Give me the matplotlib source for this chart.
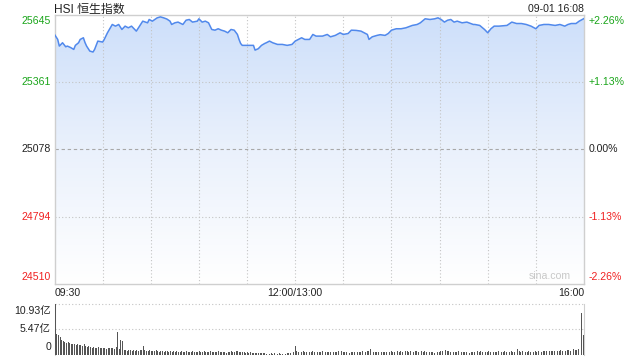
import matplotlib
matplotlib.use("Agg")
import matplotlib.pyplot as plt
import numpy as np
from matplotlib.colors import LinearSegmentedColormap

plt.rcParams['font.family'] = ['Liberation Sans', 'Noto Sans CJK SC', 'DejaVu Sans']

title = "HSI 恒生指数"
stamp = "09-01 16:08"
prev_close = 25078
y_ticks = [25645, 25361, 25078, 24794, 24510]
pct_labels = ["+2.26%", "+1.13%", "0.00%", "-1.13%", "-2.26%"]
x_tick_minutes = [0, 150, 330]
x_tick_labels = ["09:30", "12:00/13:00", "16:00"]
vol_ticks = [0, 5.47, 10.93]
vol_tick_labels = ["0", "5.47亿", "10.93亿"]

# trading minute index (0 = 09:30, 150 = 12:00/13:00, 330 = 16:00)
minutes = [0, 2, 3, 5, 7, 8, 10, 12, 13, 15, 16, 18, 19, 20, 22, 24, 25, 27, 30, 31,
           33, 36, 38, 40, 42, 44, 46, 48, 51, 53, 55, 58, 59, 61, 64, 66, 68, 70, 72, 73,
           75, 77, 80, 82, 84, 86, 89, 90, 92, 94, 96, 98, 100, 102, 104, 106, 108, 110, 112, 114,
           115, 116, 117, 120, 124, 125, 127, 129, 131, 132, 134, 136, 139, 142, 145, 148, 150, 152, 154, 156,
           159, 161, 163, 167, 170, 172, 175, 178, 180, 183, 185, 188, 191, 193, 195, 196, 198, 201, 203, 206,
           208, 210, 213, 216, 219, 223, 226, 228, 231, 234, 237, 239, 241, 243, 245, 247, 249, 251, 254, 257,
           261, 262, 265, 268, 270, 272, 274, 277, 282, 285, 288, 291, 294, 297, 300, 302, 305, 308, 312, 315,
           318, 320, 322, 325, 327, 329, 330]
prices = [25561, 25540, 25512, 25526, 25509, 25512, 25506, 25498, 25515, 25526, 25540, 25547, 25527, 25512, 25491, 25487, 25498, 25533, 25529, 25540,
          25568, 25603, 25596, 25603, 25582, 25596, 25589, 25596, 25575, 25596, 25617, 25610, 25624, 25617, 25631, 25635, 25631, 25626, 25617, 25603,
          25610, 25613, 25603, 25621, 25624, 25613, 25617, 25627, 25613, 25617, 25610, 25582, 25579, 25585, 25579, 25575, 25568, 25582, 25579, 25561,
          25540, 25523, 25515, 25515, 25515, 25495, 25501, 25515, 25523, 25526, 25533, 25526, 25519, 25519, 25515, 25519, 25533, 25540, 25547, 25540,
          25540, 25561, 25554, 25554, 25561, 25551, 25557, 25568, 25561, 25565, 25579, 25578, 25575, 25568, 25561, 25540, 25551, 25557, 25560, 25557,
          25565, 25579, 25585, 25585, 25589, 25599, 25603, 25610, 25627, 25624, 25627, 25631, 25624, 25613, 25621, 25624, 25613, 25617, 25610, 25613,
          25603, 25603, 25599, 25582, 25568, 25585, 25596, 25596, 25599, 25613, 25607, 25607, 25603, 25596, 25585, 25599, 25603, 25603, 25599, 25603,
          25596, 25603, 25607, 25607, 25617, 25624, 25628]

# volume per minute, 亿
volumes = [10.93, 4.5, 4.3, 3.9, 3.3, 2.9, 2.8, 2.6, 2.7, 2.5,
           2.4, 2.3, 2.4, 2.2, 2.3, 2.1, 2.2, 2.0, 2.3, 1.9,
           1.8, 2.0, 1.7, 1.6, 1.8, 1.5, 1.6, 1.7, 1.5, 1.4,
           1.6, 1.5, 1.3, 1.5, 1.4, 1.6, 1.5, 1.3, 1.7, 5.0,
           1.2, 3.3, 2.9, 1.0, 1.1, 0.9, 1.0, 1.1, 0.9, 1.0,
           0.9, 1.0, 0.8, 1.0, 1.1, 1.9, 1.0, 0.9, 0.8, 1.0,
           0.9, 0.8, 0.9, 1.0, 0.8, 0.7, 0.9, 0.8, 0.7, 0.8,
           0.9, 0.7, 0.8, 0.6, 0.8, 0.7, 0.9, 0.6, 0.7, 0.8,
           0.6, 0.7, 0.8, 0.6, 0.7, 0.6, 0.8, 0.7, 0.6, 0.7,
           0.8, 0.7, 0.6, 0.8, 0.7, 0.6, 0.7, 0.8, 0.6, 0.7,
           0.6, 0.7, 0.8, 0.7, 0.6, 0.7, 0.6, 0.5, 0.7, 0.6,
           0.8, 0.7, 0.6, 0.9, 0.8, 0.7, 0.6, 0.7, 0.6, 0.5,
           0.6, 0.5, 0.6, 0.5, 0.4, 0.5, 0.4, 0.5, 0.4, 0.4,
           0.5, 0.4, 0.3, 0.4, 0.3, 0.4, 0.3, 0.4, 0.3, 0.3,
           0.4, 0.3, 0.3, 0.4, 0.3, 0.4, 0.5, 0.4, 0.5, 0.6,
           2.0, 0.8, 0.6, 0.9, 0.7, 0.8, 0.6, 0.7, 0.8, 0.6,
           0.7, 0.8, 0.7, 0.6, 0.7, 0.6, 0.7, 0.8, 0.7, 0.6,
           0.7, 0.6, 0.7, 0.8, 0.7, 0.6, 0.7, 0.8, 1.9, 0.8,
           0.7, 0.6, 0.7, 0.6, 0.5, 0.6, 0.7, 0.6, 0.5, 0.6,
           0.7, 0.6, 0.8, 0.7, 0.6, 0.9, 0.8, 1.2, 0.7, 0.6,
           0.7, 0.6, 0.7, 0.8, 0.6, 0.7, 0.6, 0.7, 0.6, 0.7,
           0.8, 0.7, 0.6, 0.7, 0.9, 0.7, 0.8, 0.6, 0.7, 0.8,
           0.9, 0.7, 0.8, 0.6, 0.7, 0.9, 0.8, 0.7, 0.6, 0.8,
           0.7, 0.8, 0.6, 0.7, 0.6, 0.7, 0.6, 0.5, 0.7, 0.6,
           0.7, 0.8, 0.9, 0.7, 1.0, 0.8, 0.9, 0.7, 0.8, 0.6,
           0.7, 0.6, 0.8, 0.7, 0.6, 0.7, 0.6, 0.7, 0.6, 0.5,
           0.6, 0.7, 0.6, 0.7, 0.8, 0.7, 0.9, 0.7, 0.8, 0.6,
           0.7, 0.8, 0.7, 0.6, 0.7, 0.6, 0.7, 0.8, 0.7, 0.6,
           0.7, 0.8, 0.7, 0.6, 0.7, 0.8, 0.7, 0.6, 0.9, 1.2,
           0.8, 0.7, 0.8, 0.7, 0.6, 0.7, 0.8, 0.7, 0.6, 0.7,
           0.8, 0.7, 0.8, 0.9, 0.7, 0.8, 0.9, 0.8, 0.7, 0.8,
           0.9, 0.8, 0.9, 1.0, 0.8, 0.9, 1.0, 0.9, 1.1, 0.9,
           1.0, 1.1, 0.9, 1.0, 1.2, 1.0, 1.1, 1.2, 1.0, 8.9,
           4.3]

GREEN = "#1aa51a"
RED = "#f02020"
BORDER = "#cfcfcf"
GRID = "#c4c4c4"
LINE = "#5189ec"

fig = plt.figure(figsize=(6.4, 3.6), dpi=100)
W, H = 640.0, 360.0
L, R = 54.5, 584.0

def ax_rect(top, bottom):
    return [L / W, 1 - bottom / H, (R - L) / W, (bottom - top) / H]

ax = fig.add_axes(ax_rect(14.5, 284))
xmax = 330
ax.set_xlim(0, xmax)
ax.set_ylim(y_ticks[-1], y_ticks[0])

# gradient fill under the line
cmap = LinearSegmentedColormap.from_list("g", ["#ffffff", "#eaf1fc", "#cddffa"])
grad = np.linspace(0, 1, 256).reshape(-1, 1)
im = ax.imshow(grad, extent=[0, xmax, y_ticks[-1], y_ticks[0]], origin="lower",
               cmap=cmap, aspect="auto", zorder=1)
poly = ax.fill_between(minutes, prices, y_ticks[-1], color="none", zorder=1)
clip_path = poly.get_paths()[0]
im.set_clip_path(clip_path, transform=ax.transData)

# grid
for m in range(30, xmax, 30):
    ax.axvline(m, color=GRID, lw=0.8, ls=(0, (1, 2)), zorder=2)
for v in y_ticks[1:-1]:
    if v == prev_close:
        ax.axhline(v, color="#a8a8a8", lw=0.8, ls=(0, (3, 2.5)), zorder=2)
    else:
        ax.axhline(v, color=GRID, lw=0.8, ls=(0, (1, 2)), zorder=2)

ax.plot(minutes, prices, color=LINE, lw=1.1, zorder=3, solid_joinstyle="round")

for s in ax.spines.values():
    s.set_color(BORDER)
    s.set_linewidth(1.0)
ax.set_xticks([])
ax.set_yticks([])

# left price labels
for i, (v, p) in enumerate(zip(y_ticks, pct_labels)):
    col = GREEN if v > prev_close else (RED if v < prev_close else "#222222")
    va = "top" if i == 0 else ("bottom" if i == len(y_ticks) - 1 else "center")
    off = -1.5 if i == 0 else (2 if i == len(y_ticks) - 1 else 0)
    ax.annotate(str(v), xy=(0, v), xycoords=("axes fraction", "data"),
                xytext=(-3.5, off), textcoords="offset pixels",
                ha="right", va=va, color=col, fontsize=7.6)
    ax.annotate(p, xy=(1, v), xycoords=("axes fraction", "data"),
                xytext=(5, off), textcoords="offset pixels",
                ha="left", va=va, color=col, fontsize=7.6)

# x labels
for m, lab in zip(x_tick_minutes, x_tick_labels):
    ha = "left" if m == 0 else ("right" if m == xmax else "center")
    ax.annotate(lab, xy=(m, 0), xycoords=("data", "axes fraction"),
                xytext=(0, -4), textcoords="offset pixels",
                ha=ha, va="top", color="#222222", fontsize=7.6)

fig.text(L / W, 1 - 12.5 / H, title, ha="left", va="baseline",
         fontsize=8.6, color="#222222")
fig.text(R / W, 1 - 11.8 / H, stamp, ha="right", va="baseline",
         fontsize=7.6, color="#222222")
ax.text(0.975, 0.012, "sina.com", transform=ax.transAxes, ha="right", va="bottom",
        fontsize=7.6, color="#c8c8c8", zorder=4)

# volume panel
vax = fig.add_axes(ax_rect(304, 355))
vidx = np.arange(len(volumes))
vax.bar(vidx, volumes, width=0.55, color="#555555", align="center", zorder=3)
vax.set_xlim(0 - 0.5, xmax + 0.5)
vax.set_ylim(0, vol_ticks[-1])
for v in vol_ticks[1:]:
    vax.axhline(v, color=GRID, lw=0.8, ls=(0, (1, 2)), zorder=1, clip_on=False)
for k in ["top", "bottom"]:
    vax.spines[k].set_visible(False)
for k in ["left", "right"]:
    vax.spines[k].set_color(BORDER)
vax.set_xticks([])
vax.set_yticks([])
for v, lab in zip(vol_ticks, vol_tick_labels):
    va = "top" if v == vol_ticks[-1] else ("bottom" if v == 0 else "center")
    off = -2 if v == vol_ticks[-1] else (3 if v == 0 else 0)
    vax.annotate(lab, xy=(0, v), xycoords=("axes fraction", "data"),
                 xytext=(-3.5, off), textcoords="offset pixels",
                 ha="right", va=va, color="#222222", fontsize=7.6)

fig.savefig("out.png", dpi=100)
